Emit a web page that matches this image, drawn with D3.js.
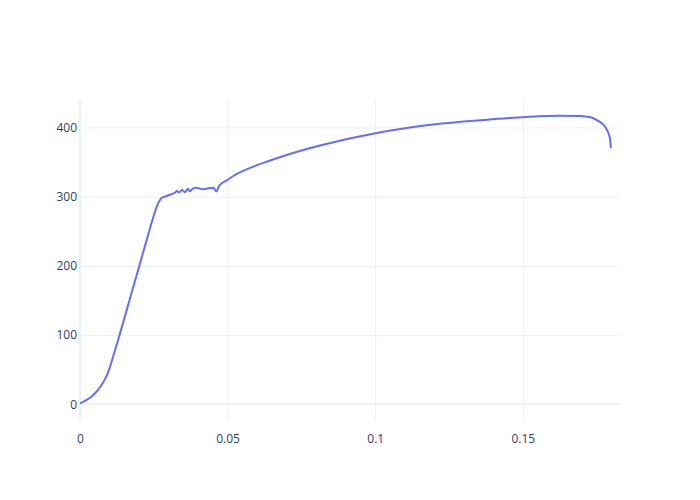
<!DOCTYPE html>
<html>
<head>
<meta charset="utf-8">
<script src="https://cdn.jsdelivr.net/npm/d3@7"></script>
<style>
html,body{margin:0;padding:0;background:#fff;}
svg{display:block;font-family:"Open Sans",sans-serif;}
</style>
</head>
<body>
<svg id="chart" width="700" height="500"></svg>
<script>
// Data (strain vs stress)
const strain = [0, 0.0020, 0.0041, 0.0061, 0.0078, 0.0092, 0.0105, 0.0115, 0.0127, 0.0176,
  0.0226, 0.0246, 0.0261, 0.0277,
  0.0294, 0.0311, 0.0322, 0.0328, 0.0336, 0.0345, 0.0356, 0.0365, 0.0373, 0.0382,
  0.0395, 0.0407, 0.0418, 0.0435, 0.0452, 0.0462, 0.0469, 0.0474, 0.0480,
  0.0495, 0.0519, 0.0587, 0.0644, 0.0700, 0.0756, 0.0813, 0.1005, 0.1197,
  0.1366, 0.1513, 0.1626, 0.1694, 0.1728, 0.1750, 0.1767, 0.1782, 0.1790, 0.1795, 0.1798];
const stress = [1.4, 5.8, 12.0, 20.7, 31.5, 43.0, 58.5, 73.0, 90.0, 163.0,
  237.6, 267.3, 286.6, 298.4,
  301.0, 303.9, 305.8, 308.2, 306.1, 309.7, 306.4, 311.3, 307.7, 311.6,
  313.0, 311.6, 310.7, 312.1, 312.9, 307.5, 313.6, 316.9, 319.4,
  323.0, 329.9, 343.4, 352.3, 360.3, 367.5, 374.0, 392.1, 404.3,
  410.8, 415.2, 416.9, 416.6, 414.7, 410.8, 406.1, 398.8, 391.6, 384.4, 370.0];
const xTicks = [0, 0.05, 0.1, 0.15];
const xTickLabels = ["0", "0.05", "0.1", "0.15"];
const yTicks = [0, 100, 200, 300, 400];
const yTickLabels = ["0", "100", "200", "300", "400"];
const xDomain = [0, 0.1829];
const yDomain = [-22.7, 439.7];

const svg = d3.select("#chart");
const margin = {l: 80, r: 80, t: 100, b: 80};
const W = 700, H = 500;
const x = d3.scaleLinear().domain(xDomain).range([margin.l, W - margin.r]);
const y = d3.scaleLinear().domain(yDomain).range([H - margin.b, margin.t]);
const gridColor = "#EBF0F8";
const textColor = "#2a3f5f";

// grid lines
const gx = d3.axisBottom(x).tickValues(xTicks.filter(d => d !== 0))
  .tickSize(-(H - margin.t - margin.b)).tickFormat("");
svg.append("g").attr("transform", `translate(0,${H - margin.b})`).call(gx)
  .call(g => g.select(".domain").remove())
  .call(g => g.selectAll("line").attr("stroke", gridColor).attr("stroke-width", 1));
const gy = d3.axisLeft(y).tickValues(yTicks.filter(d => d !== 0))
  .tickSize(-(W - margin.l - margin.r)).tickFormat("");
svg.append("g").attr("transform", `translate(${margin.l},0)`).call(gy)
  .call(g => g.select(".domain").remove())
  .call(g => g.selectAll("line").attr("stroke", gridColor).attr("stroke-width", 1));

// zero lines
svg.append("line").attr("x1", x(0)).attr("x2", x(0))
  .attr("y1", margin.t).attr("y2", H - margin.b)
  .attr("stroke", gridColor).attr("stroke-width", 2);
svg.append("line").attr("x1", margin.l).attr("x2", W - margin.r)
  .attr("y1", y(0)).attr("y2", y(0))
  .attr("stroke", gridColor).attr("stroke-width", 2);

// tick labels via axes
const ax = d3.axisBottom(x).tickValues(xTicks).tickSize(0).tickPadding(14)
  .tickFormat((d, i) => xTickLabels[i]);
svg.append("g").attr("transform", `translate(0,${H - margin.b})`).call(ax)
  .call(g => g.select(".domain").remove())
  .call(g => g.selectAll("text").attr("fill", textColor).style("font-size", "12px")
    .style("font-family", '"Open Sans", sans-serif'));
const ay = d3.axisLeft(y).tickValues(yTicks).tickSize(0).tickPadding(3)
  .tickFormat((d, i) => yTickLabels[i]);
svg.append("g").attr("transform", `translate(${margin.l},0)`).call(ay)
  .call(g => g.select(".domain").remove())
  .call(g => g.selectAll("text").attr("fill", textColor).style("font-size", "12px")
    .style("font-family", '"Open Sans", sans-serif'));

// clip
svg.append("clipPath").attr("id", "clip").append("rect")
  .attr("x", margin.l).attr("y", margin.t)
  .attr("width", W - margin.l - margin.r).attr("height", H - margin.t - margin.b);

const pts = strain.map((s, i) => [s, stress[i]]);
const line = d3.line().curve(d3.curveMonotoneX).x(d => x(d[0])).y(d => y(d[1]));
svg.append("path").datum(pts).attr("clip-path", "url(#clip)")
  .attr("d", line).attr("fill", "none").attr("stroke", "#636efa")
  .attr("stroke-width", 2).attr("stroke-linejoin", "round");
</script>
</body>
</html>
